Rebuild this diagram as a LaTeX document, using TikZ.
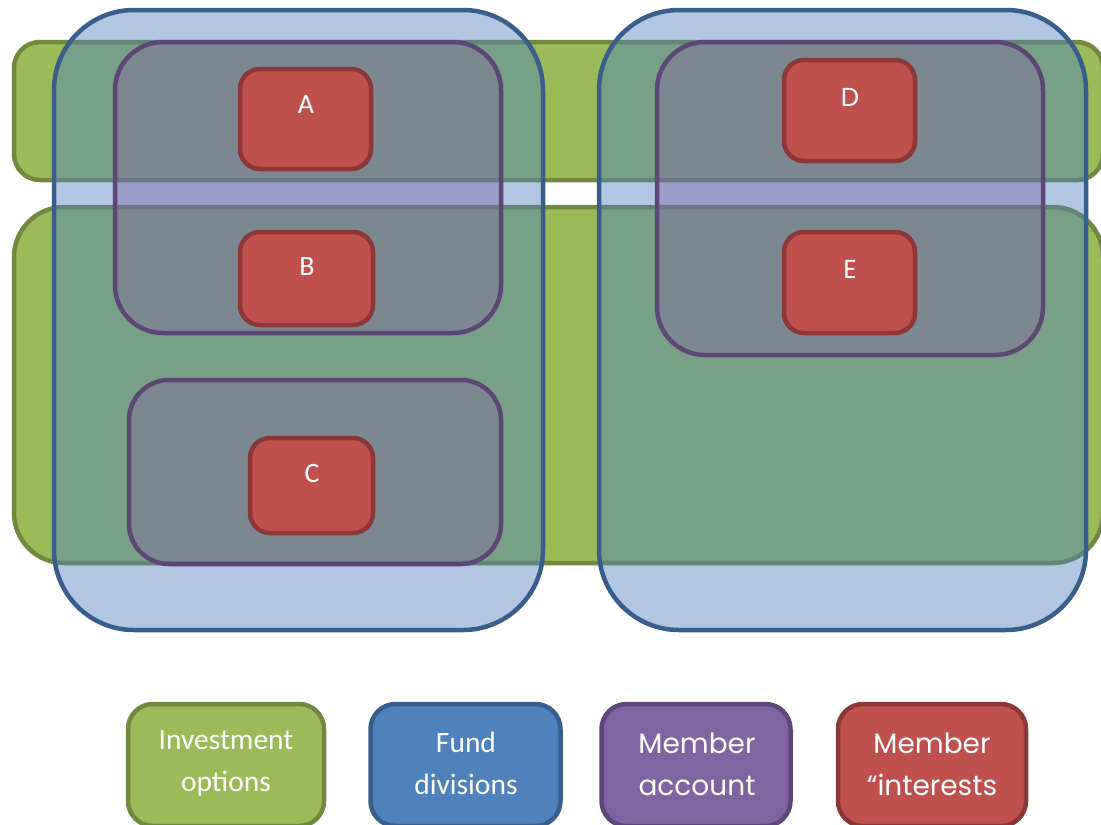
\documentclass[tikz,border=0pt]{standalone}
\usepackage{fontspec}
\setmainfont{Carlito}
\newfontfamily\geofont{Poppins}
\definecolor{invF}{HTML}{9BBB59}
\definecolor{invB}{HTML}{71893F}
\definecolor{fundF}{HTML}{4F81BD}
\definecolor{fundB}{HTML}{3A5E8C}
\definecolor{accF}{HTML}{8064A2}
\definecolor{accB}{HTML}{5C4776}
\definecolor{intF}{HTML}{C0504D}
\definecolor{intB}{HTML}{8C3836}
\begin{document}
\begin{tikzpicture}[x=1pt,y=-1pt,
  box/.style={rectangle, inner sep=0pt, outer sep=0pt, line width=4.5pt},
  inv/.style={box, draw=invB, fill=invF, rounded corners=#1},
  inv/.default=25pt,
  fund/.style={box, draw=fundB, fill=fundF, fill opacity=0.45, draw opacity=1, rounded corners=#1},
  fund/.default=80pt,
  acc/.style={box, draw=accB, fill=accF, fill opacity=0.4, draw opacity=1, rounded corners=#1},
  acc/.default=48pt,
  intr/.style={box, draw=intB, fill=intF, rounded corners=#1},
  intr/.default=20pt,
  lbl/.style={text=white, inner sep=0pt, font=\fontsize{28}{30}\selectfont},
  glbl/.style={text=white, inner sep=0pt, font=\geofont\fontsize{26}{30}\selectfont},
  legtxt/.style={text=white, inner sep=0pt, align=center, font=\fontsize{29.5}{42}\selectfont},
  geotxt/.style={text=white, inner sep=0pt, align=center, font=\geofont\fontsize{28}{42}\selectfont}
]
\useasboundingbox (0,0) rectangle (1101,825);
\clip (0,0) rectangle (1101,825);

% investment options
\node[inv=26pt, minimum width=1089pt, minimum height=138pt] (gtop) at (558.5,111) {};
\node[inv=50pt, minimum width=1089pt, minimum height=356pt] (gbot) at (558.5,385) {};

% fund divisions
\node[fund, minimum width=489pt, minimum height=620pt] (fl) at (298.5,320) {};
\node[fund, minimum width=487pt, minimum height=620pt] (fr) at (842.5,320) {};

% member accounts
\node[acc, minimum width=386pt, minimum height=291pt] (alt) at (308,187.5) {};
\node[acc=40pt, minimum width=372pt, minimum height=184pt] (alb) at (315,472) {};
\node[acc, minimum width=386pt, minimum height=313pt] (ar) at (850,198.5) {};

% member interests
\node[intr, minimum width=131pt, minimum height=100pt] (ra) at (305.5,119) {};
\node[intr, minimum width=133pt, minimum height=93pt] (rb) at (306.5,278.5) {};
\node[intr, minimum width=123pt, minimum height=95pt] (rc) at (311.5,485.5) {};
\node[intr, minimum width=131pt, minimum height=101pt] (rd) at (849.5,110.5) {};
\node[intr, minimum width=131pt, minimum height=101pt] (re) at (849.5,282.5) {};

\node[lbl] (la) at (306,105) {A};
\node[lbl] (lb) at (307,267) {B};
\node[lbl] (lc) at (312,474) {C};
\node[glbl] (ld) at (850,97) {D};
\node[glbl] (le) at (850,269) {E};

% legend
\node[inv=25pt, minimum width=196pt, minimum height=122pt] (kinv) at (226,765) {};
\node[box, draw=fundB, fill=fundF, rounded corners=25pt, minimum width=190pt, minimum height=122pt] (kfund) at (465.5,765) {};
\node[box, draw=accB, fill=accF, rounded corners=25pt, minimum width=189pt, minimum height=122pt] (kacc) at (696,765) {};
\node[intr=25pt, minimum width=188pt, minimum height=122pt] (kint) at (932,765) {};

\node[legtxt] (tinv) at (226,763) {Investment\\options};
\node[legtxt] (tfund) at (466,763) {Fund\\divisions};
\node[geotxt] (tacc) at (697,764) {Member\\account};
\node[geotxt] (tint) at (932,764) {Member\\“interests};
\end{tikzpicture}
\end{document}
